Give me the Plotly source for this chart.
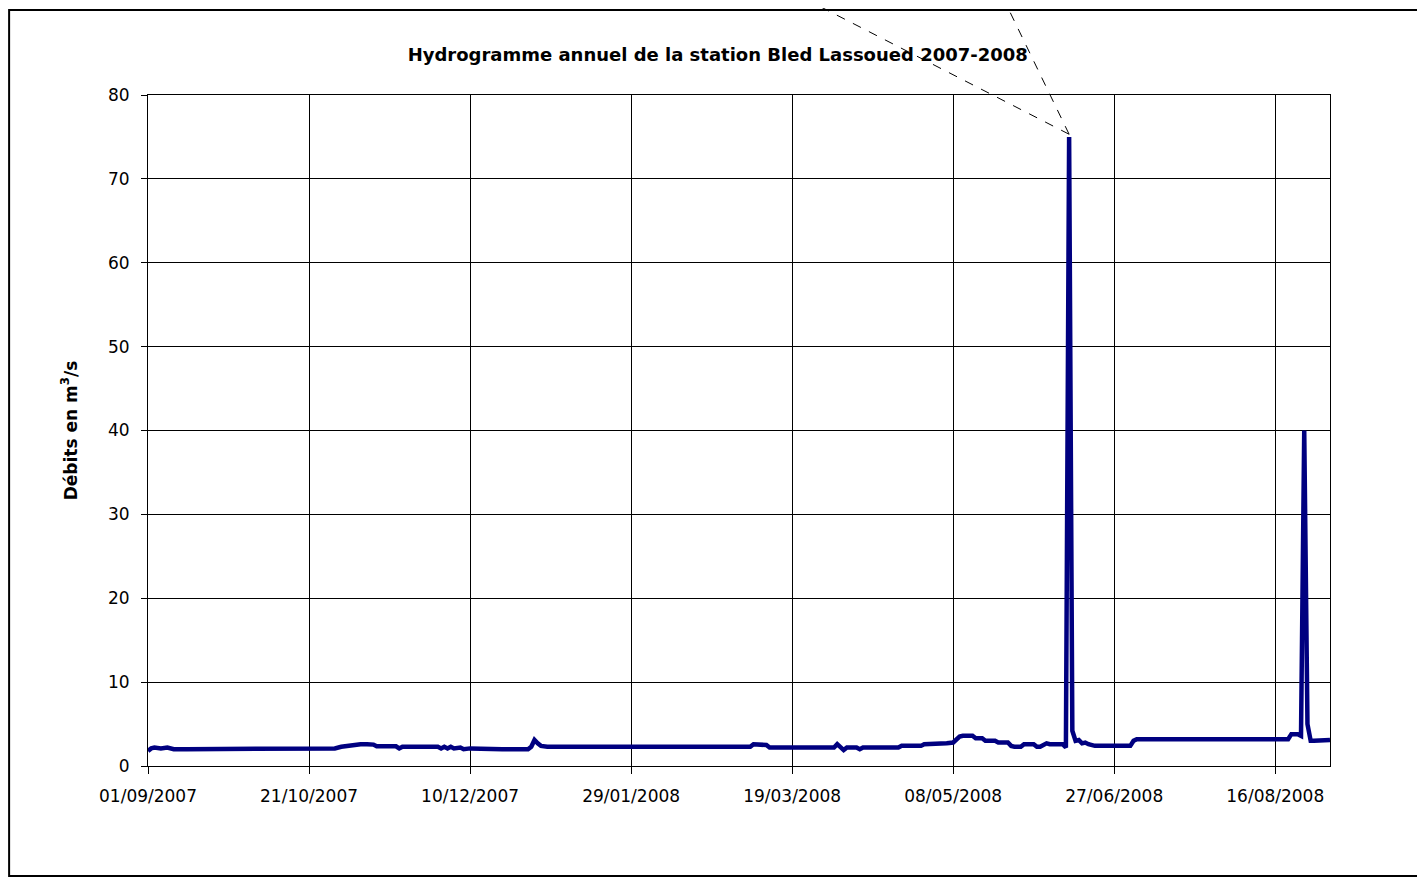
import plotly.graph_objects as go
import pandas as pd

# Breakpoints: day offset from 01/09/2007 and discharge (m3/s)
day_offsets = [0, 1, 2, 4, 6, 8, 12, 30, 58, 60, 62, 64, 66, 68, 70, 71, 74, 77, 78, 79, 85, 90, 91, 92, 93, 94, 95,
               97, 98, 100, 110, 118, 119, 120, 121, 122, 124, 150, 186, 187, 188, 190, 192, 193, 200, 213, 214, 215,
               216, 217, 218, 220, 221, 222, 223, 230, 233, 234, 240, 241, 247, 248, 250, 251, 252, 253, 256, 257,
               259, 260, 263, 264, 267, 268, 269, 271, 272, 273, 275, 276, 277, 279, 280, 282, 284, 285, 286, 287,
               288, 289, 290, 291, 292, 294, 300, 305, 306, 307, 320, 340, 354, 355, 357, 358, 359, 360, 361, 362,
               365, 367]
flows = [1.8, 2.1, 2.2, 2.1, 2.2, 2.0, 2.0, 2.0, 2.1, 2.3, 2.4, 2.55, 2.6, 2.6, 2.55, 2.35, 2.35, 2.35, 2.1, 2.3, 2.3,
         2.3, 2.1, 2.3, 2.1, 2.3, 2.1, 2.2, 2.0, 2.1, 2.0, 2.0, 2.3, 3.1, 2.7, 2.4, 2.3, 2.3, 2.3, 2.3, 2.6, 2.5, 2.5,
         2.2, 2.2, 2.2, 2.6, 2.3, 1.9, 2.2, 2.2, 2.2, 2.0, 2.2, 2.2, 2.2, 2.2, 2.4, 2.4, 2.6, 2.6, 2.7, 2.8, 3.1, 3.5,
         3.6, 3.6, 3.3, 3.3, 3.0, 3.0, 2.8, 2.8, 2.4, 2.3, 2.3, 2.6, 2.6, 2.6, 2.3, 2.3, 2.7, 2.6, 2.6, 2.6, 2.2, 75.0,
         4.2, 3.0, 3.1, 2.7, 2.8, 2.6, 2.4, 2.4, 2.4, 3.0, 3.2, 3.2, 3.2, 3.2, 3.8, 3.8, 3.6, 40.0, 5.0, 3.0, 3.0,
         3.1, 3.1, 3.2]

start_date = pd.Timestamp("2007-09-01")
end_date = pd.Timestamp("2008-09-02")
dates = [start_date + pd.Timedelta(days=d) for d in day_offsets]

tick_offsets = [0, 50, 100, 150, 200, 250, 300, 350]
tick_dates = [start_date + pd.Timedelta(days=d) for d in tick_offsets]
tick_labels = [t.strftime("%d/%m/%Y") for t in tick_dates]

y_ticks = [0, 10, 20, 30, 40, 50, 60, 70, 80]

FONT = "DejaVu Sans, Liberation Sans, Arial, sans-serif"

fig = go.Figure()
fig.add_trace(go.Scatter(x=dates, y=flows, mode="lines",
                         line=dict(color="#000080", width=4.5), showlegend=False))

# callout lines from the main peak (paper coords computed from data)
total_days = (end_date - start_date).days
i_peak = flows.index(max(flows))
px_peak = day_offsets[i_peak] / total_days
py_peak = flows[i_peak] / 80.0
shapes = []
for xt in [0.554, 0.7234]:
    shapes.append(dict(type="line", xref="paper", yref="paper", x0=px_peak, y0=py_peak + 0.004,
                       x1=xt, y1=1.145, line=dict(color="black", width=1, dash="dash")))
# outer frame
shapes.append(dict(type="rect", xref="paper", yref="paper", x0=-0.1175, x1=1.09, y0=-0.164, y1=1.1267,
                   line=dict(color="black", width=2), fillcolor="rgba(0,0,0,0)", layer="below"))

fig.update_layout(
    width=1417, height=870,
    margin=dict(l=140, r=95, t=87, b=112),
    paper_bgcolor="white", plot_bgcolor="white",
    font=dict(family=FONT, color="black", size=17),
    title=dict(text="<b>Hydrogramme annuel de la station Bled Lassoued 2007-2008</b>",
               x=0.482, xref="paper", xanchor="center", y=1 - 47 / 870, yref="container", yanchor="middle",
               font=dict(size=18, color="black", family=FONT)),
    shapes=shapes,
    xaxis=dict(range=[start_date, end_date], tickvals=tick_dates, ticktext=tick_labels,
               showgrid=True, gridcolor="black", gridwidth=1,
               showline=True, linecolor="black", linewidth=1, mirror=True,
               ticks="outside", ticklen=7, tickcolor="black", tickfont=dict(size=17, family=FONT),
               ticklabelstandoff=8, zeroline=False),
    yaxis=dict(range=[0, 80], tickvals=y_ticks,
               showgrid=True, gridcolor="black", gridwidth=1,
               showline=True, linecolor="black", linewidth=1, mirror=True,
               ticks="outside", ticklen=6, tickcolor="black", tickfont=dict(size=17, family=FONT),
               ticklabelstandoff=8, zeroline=False,
               title=dict(text="<b>Débits en m<sup>3</sup>/s</b>", font=dict(size=17, family=FONT), standoff=26)),
)

fig.write_html("out.html")
